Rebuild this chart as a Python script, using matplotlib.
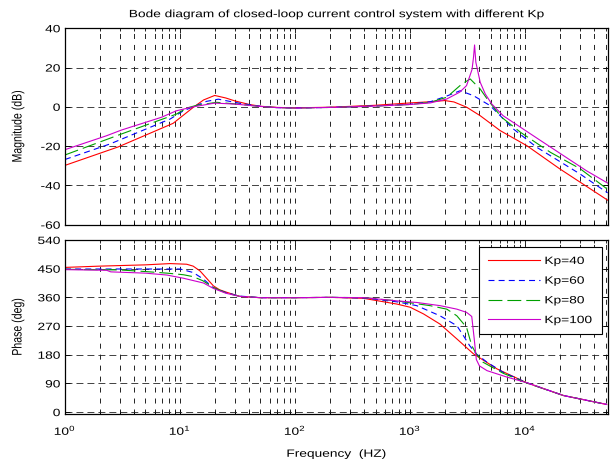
import numpy as np
import matplotlib
matplotlib.use("Agg")
import matplotlib.pyplot as plt
from matplotlib import patheffects
from matplotlib.text import Text
from matplotlib.transforms import Affine2D
from matplotlib.ticker import LogLocator, MultipleLocator, NullFormatter

plt.rcParams['font.family'] = ['Liberation Sans', 'DejaVu Sans']
plt.rcParams['mathtext.fontset'] = 'custom'
plt.rcParams['mathtext.rm'] = 'Liberation Sans'
plt.rcParams['lines.scale_dashes'] = False
plt.rcParams['axes.unicode_minus'] = False

# magnitude (dB), per Kp
f_mag_40 = [1, 2.9, 8.7, 13, 16, 20, 25, 30, 40, 50, 70, 100, 200, 500, 1000, 1500,
            2000, 2400, 3100, 4060, 6060, 10350, 20000, 52000]
mag_40 = [-29.8, -20.4, -8.4, -0.3, 3.5, 5.8, 4.5, 3.0, 1.2, 0.3, -0.3, -0.5, -0.2, 0.8,
          2.0, 2.6, 3.2, 2.5, -0.2, -4.5, -12.1, -19.8, -31.6, -47.5]

f_mag_60 = [1, 2.46, 8.2, 10.7, 13, 17, 21.5, 33, 50, 70, 100, 200, 500, 1000, 1500,
            2080, 2720, 3550, 4960, 7910, 12600, 30000, 52000]
mag_60 = [-26.8, -18.9, -6.2, -2.0, 0.0, 2.8, 3.9, 1.8, 0.3, -0.4, -0.6, -0.3, 0.5, 1.3,
          2.6, 5.5, 8.2, 5.7, 0.6, -11.3, -20.6, -34.2, -43.8]

f_mag_80 = [1, 3.1, 6.7, 9.3, 11.4, 14, 20.8, 30, 50, 70, 100, 200, 500, 1000, 1500,
            2080, 2810, 3325, 4060, 4790, 6235, 9120, 16500, 30000, 52000]
mag_80 = [-24.5, -13.8, -6.7, -3.7, -0.6, 0.8, 2.3, 1.5, 0.2, -0.4, -0.6, -0.3, 0.4, 1.2,
          2.3, 4.9, 11.6, 14.2, 9.1, 3.1, -5.3, -13.0, -23.1, -31.5, -42.0]

f_mag_100 = [1, 2.3, 3.1, 6.9, 9.3, 13, 20, 30, 50, 70, 100, 200, 500, 1000, 1500, 2080,
             2700, 3090, 3450, 3550, 3630, 3724, 4064, 4500, 5130, 6420, 13000, 34000, 52000]
mag_100 = [-21.8, -14.7, -11.8, -5.3, -2.0, 0.0, 1.9, 1.4, 0.2, -0.4, -0.6, -0.3, 0.4, 1.2,
           2.0, 4.0, 7.5, 10.8, 19.0, 25.0, 31.5, 22.7, 12.5, 6.5, 1.4, -4.5, -16.4, -32.5, -38.8]

# phase (deg)
f_ph_40 = [1, 2, 5, 8.2, 11.4, 13, 14.9, 17, 19.5, 22, 25.4, 33, 50, 100, 201, 393, 766,
           1000, 1307, 1820, 2548, 3557, 5680, 10350, 21500, 51000]
ph_40 = [454, 458, 462, 466, 464, 458, 443, 420, 396, 384, 376, 363, 359, 359, 360, 357,
         339, 329, 308, 276, 229.5, 182.5, 135.6, 91.7, 52, 24]

f_ph_60 = [1, 5, 10, 13, 16, 19.3, 25, 33, 50, 100, 200, 400, 766, 1140, 1820, 2548, 2900,
           3290, 3760, 4660, 6420, 10350, 21500, 51000]
ph_60 = [449, 449, 449, 438, 417, 391, 375, 364, 359, 359, 360, 358, 346, 334, 302, 271,
         240, 208.5, 182.5, 156.5, 125, 92, 52, 24]

f_ph_80 = [1, 3, 5, 7.7, 10.7, 13, 15.8, 19.5, 25, 33, 50, 100, 200, 400, 766, 1490, 2084,
           2548, 3090, 3430, 3760, 4300, 6420, 10350, 21500, 51000]
ph_80 = [448, 446, 441, 436, 431, 425, 412, 391, 374, 363, 359, 359, 360, 359, 349, 334,
         323, 302, 266, 208.5, 182.5, 156.5, 122, 91, 52, 24]

f_ph_100 = [1, 2.3, 2.5, 5, 7.7, 10.7, 16, 19.5, 25, 33, 50, 100, 200, 400, 766, 1140,
            1820, 2548, 3090, 3300, 3430, 3600, 3760, 4000, 4660, 6920, 10350, 21500, 51000]
ph_100 = [447, 445, 440, 436, 430, 420, 405, 388, 373, 363, 359, 359, 360, 359, 349, 344,
          334, 323, 313, 305, 300, 232, 165, 145, 130, 110, 92, 52, 24]

labels = ['Kp=40', 'Kp=60', 'Kp=80', 'Kp=100']
colors = ['#ff0000', '#0000ff', '#00a000', '#cc00cc']
styles = ['-', (0, (4.3, 3.0)), (0, (10, 3.6)), '-']

mag_sets = [(f_mag_40, mag_40), (f_mag_60, mag_60), (f_mag_80, mag_80), (f_mag_100, mag_100)]
ph_sets = [(f_ph_40, ph_40), (f_ph_60, ph_60), (f_ph_80, ph_80), (f_ph_100, ph_100)]

FS = 7.6


class StretchX(patheffects.AbstractPathEffect):
    # text in the original figure is pulled wider than it is tall
    def __init__(self, sx, anchor='center'):
        super().__init__()
        self.sx = sx
        self.anchor = anchor

    def draw_path(self, renderer, gc, tpath, affine, rgbFace=None):
        ext = tpath.get_extents(affine)
        if self.anchor == 'left':
            x0 = ext.x0
        elif self.anchor == 'right':
            x0 = ext.x1
        else:
            x0 = 0.5 * (ext.x0 + ext.x1)
        tr = affine + Affine2D().translate(-x0, 0).scale(self.sx, 1).translate(x0, 0)
        renderer.draw_path(gc, tpath, tr, rgbFace)


fig = plt.figure(figsize=(6.11, 4.64), dpi=100)
ax1 = fig.add_axes([0.1064, 0.5136, 0.888, 0.4233])
ax2 = fig.add_axes([0.1064, 0.1056, 0.888, 0.375])

for (f, m), (fp, p), lab, c, ls in zip(mag_sets, ph_sets, labels, colors, styles):
    ax1.semilogx(f, m, color=c, linestyle=ls, lw=0.8)
    ax2.semilogx(fp, p, color=c, linestyle=ls, lw=0.8, label=lab)

for ax in (ax1, ax2):
    ax.set_xlim(1, 5.2e4)
    ax.xaxis.set_major_locator(LogLocator(base=10, numticks=10))
    ax.xaxis.set_minor_locator(LogLocator(base=10, subs=np.arange(2, 10), numticks=20))
    ax.xaxis.set_minor_formatter(NullFormatter())
    ax.grid(True, which='both', axis='x', color='k', lw=0.6, linestyle=(0, (3.6, 4.3)))
    ax.grid(True, which='major', axis='y', color='#222222', lw=0.6, linestyle=(0, (5, 2.9)))
    ax.tick_params(which='both', direction='in', top=True, right=True, labelsize=FS)
    ax.tick_params(axis='y', pad=3.5)
    ax.tick_params(axis='x', pad=6.5)
    ax.tick_params(which='major', length=3.5, width=0.6)
    ax.tick_params(which='minor', length=2, width=0.6)
    for s in ax.spines.values():
        s.set_linewidth(0.9)

ax1.set_ylim(-60, 40)
ax1.yaxis.set_major_locator(MultipleLocator(20))
ax1.tick_params(labelbottom=False)
ax1.set_ylabel('Magnitude (dB)', fontsize=FS)
ax1.yaxis.set_label_coords(-0.078, 0.5)
ax1.set_title('Bode diagram of closed-loop current control system with different Kp',
              fontsize=FS, pad=8)

ax2.set_ylim(-6, 540)
ax2.yaxis.set_major_locator(MultipleLocator(90))
ax2.set_ylabel('Phase (deg)', fontsize=FS)
ax2.yaxis.set_label_coords(-0.078, 0.5)
ax2.set_xlabel('Frequency  (HZ)', fontsize=FS)
ax2.xaxis.set_label_coords(0.5, -0.2)

leg = ax2.legend(loc='upper left', bbox_to_anchor=(0.763, 0.0, 0.2265, 0.96), mode='expand',
                 fontsize=FS, fancybox=False, framealpha=1, edgecolor='k', handlelength=4.9,
                 handletextpad=0.47, labelspacing=0.92, borderpad=0.85, borderaxespad=0)
leg.get_frame().set_linewidth(0.8)

fig.canvas.draw()
for t in fig.findobj(Text):
    t.set_path_effects([StretchX(1.3, t.get_ha())])

fig.savefig('out.png', dpi=100)
